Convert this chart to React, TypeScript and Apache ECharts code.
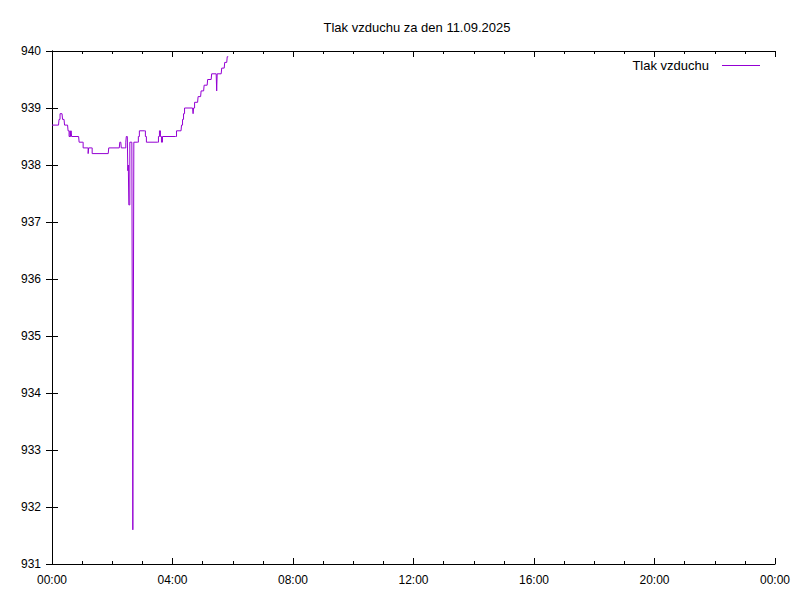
import React, { useEffect, useRef } from "react";
import * as echarts from "echarts";

// Time of day in minutes since 00:00, and pressure in hPa at that time
const minutes = [
  0, 13, 14, 15, 16, 20, 21, 24, 25, 31, 32, 33, 34, 35, 36, 37, 38, 39, 40, 53,
  54, 60, 62, 63, 70, 72, 73, 74, 78, 80, 112, 113, 134, 135, 137, 138, 145, 147,
  148, 150, 151, 152, 153, 155, 159, 160, 161, 162, 163, 164, 170, 172, 174, 184,
  186, 188, 210, 212, 214, 216, 218, 220, 246, 248, 257, 258, 260, 262, 264, 280,
  281, 282, 284, 290, 291, 296, 297, 302, 303, 309, 310, 317, 318, 327, 328, 329,
  337, 338, 343, 344, 348, 349, 351,
];
const pressure = [
  938.7, 938.7, 938.8, 938.8, 938.9, 938.9, 938.8, 938.8, 938.7, 938.7, 938.6, 938.6, 938.5, 938.5, 938.6, 938.5, 938.6, 938.5, 938.5, 938.5,
  938.4, 938.4, 938.3, 938.3, 938.3, 938.2, 938.3, 938.3, 938.3, 938.2, 938.2, 938.3, 938.3, 938.4, 938.4, 938.3, 938.3, 938.4,
  938.5, 938.5, 937.9, 938.0, 937.3, 938.4, 938.4, 935.0, 931.6, 935.0, 938.4, 938.4, 938.4, 938.5, 938.6, 938.6,
  938.5, 938.4, 938.4, 938.5, 938.6, 938.5, 938.4, 938.5, 938.5, 938.6, 938.6, 938.7, 938.8, 938.9, 939.0, 939.0,
  938.9, 939.0, 939.1, 939.1, 939.2, 939.2, 939.3, 939.3, 939.4, 939.4, 939.5, 939.5, 939.6, 939.6, 939.3, 939.6,
  939.6, 939.7, 939.7, 939.8, 939.8, 939.9, 939.9,
];

const xTickMinutes = [0, 240, 480, 720, 960, 1200, 1440];
const yTicks = [931, 932, 933, 934, 935, 936, 937, 938, 939, 940];
const titleText = "Tlak vzduchu za den 11.09.2025";
const seriesName = "Tlak vzduchu";

const FONT = "'Liberation Sans', Arial, sans-serif";

function fmtTime(v: number): string {
  const m = ((Math.round(v) % 1440) + 1440) % 1440;
  const h = Math.floor(m / 60);
  const mm = m % 60;
  return String(h).padStart(2, "0") + ":" + String(mm).padStart(2, "0");
}

export default function App() {
  const ref = useRef<HTMLDivElement>(null);

  useEffect(() => {
    if (!ref.current) return;
    const chart = echarts.init(ref.current, undefined, { renderer: "svg" });
    const data = minutes.map((m, i) => [m, pressure[i]]);
    const axisLine = { show: true, lineStyle: { color: "#000", width: 1 } };
    const xCommon = {
      type: "value" as const,
      min: xTickMinutes[0],
      max: xTickMinutes[xTickMinutes.length - 1],
      interval: 240,
      axisLine,
      axisTick: { show: true, inside: true, length: 6, lineStyle: { color: "#000" } },
      minorTick: { show: true, splitNumber: 4, length: 3, lineStyle: { color: "#000" } },
      splitLine: { show: false },
    };
    const yCommon = {
      type: "value" as const,
      min: yTicks[0],
      max: yTicks[yTicks.length - 1],
      interval: 1,
      axisLine,
      axisTick: { show: true, inside: true, length: 6, lineStyle: { color: "#000" } },
      splitLine: { show: false },
    };
    chart.setOption({
      animation: false,
      backgroundColor: "#fff",
      title: {
        text: titleText,
        left: 412,
        textAlign: "center",
        top: 16,
        textStyle: { fontFamily: FONT, fontSize: 13, fontWeight: "normal", color: "#000" },
      },
      legend: {
        data: [seriesName],
        right: 40,
        top: 59,
        padding: 0,
        align: "right",
        icon: "rect",
        itemWidth: 38,
        itemHeight: 1,
        itemGap: 0,
        textStyle: { fontFamily: FONT, fontSize: 13, color: "#000", padding: [0, 8, 0, 0] },
      },
      grid: { left: 52, right: 25, top: 51, bottom: 36, containLabel: false },
      xAxis: [
        {
          ...xCommon,
          position: "bottom",
          axisLabel: {
            show: true,
            margin: 10,
            fontFamily: FONT,
            fontSize: 12,
            color: "#000",
            formatter: (v: number) => fmtTime(v),
          },
        },
        {
          ...xCommon,
          position: "top",
          axisLabel: { show: false },
        },
      ],
      yAxis: [
        {
          ...yCommon,
          position: "left",
          axisLabel: { show: true, margin: 11, fontFamily: FONT, fontSize: 12, color: "#000" },
        },
        {
          ...yCommon,
          position: "right",
          axisLabel: { show: false },
        },
      ],
      series: [
        {
          name: seriesName,
          type: "line",
          xAxisIndex: 0,
          yAxisIndex: 0,
          data,
          step: "end",
          showSymbol: false,
          symbol: "none",
          lineStyle: { color: "#9400d3", width: 1 },
          itemStyle: { color: "#9400d3" },
        },
      ],
    });
    return () => chart.dispose();
  }, []);

  return <div ref={ref} style={{ width: 800, height: 600, margin: -8 }} />;
}
